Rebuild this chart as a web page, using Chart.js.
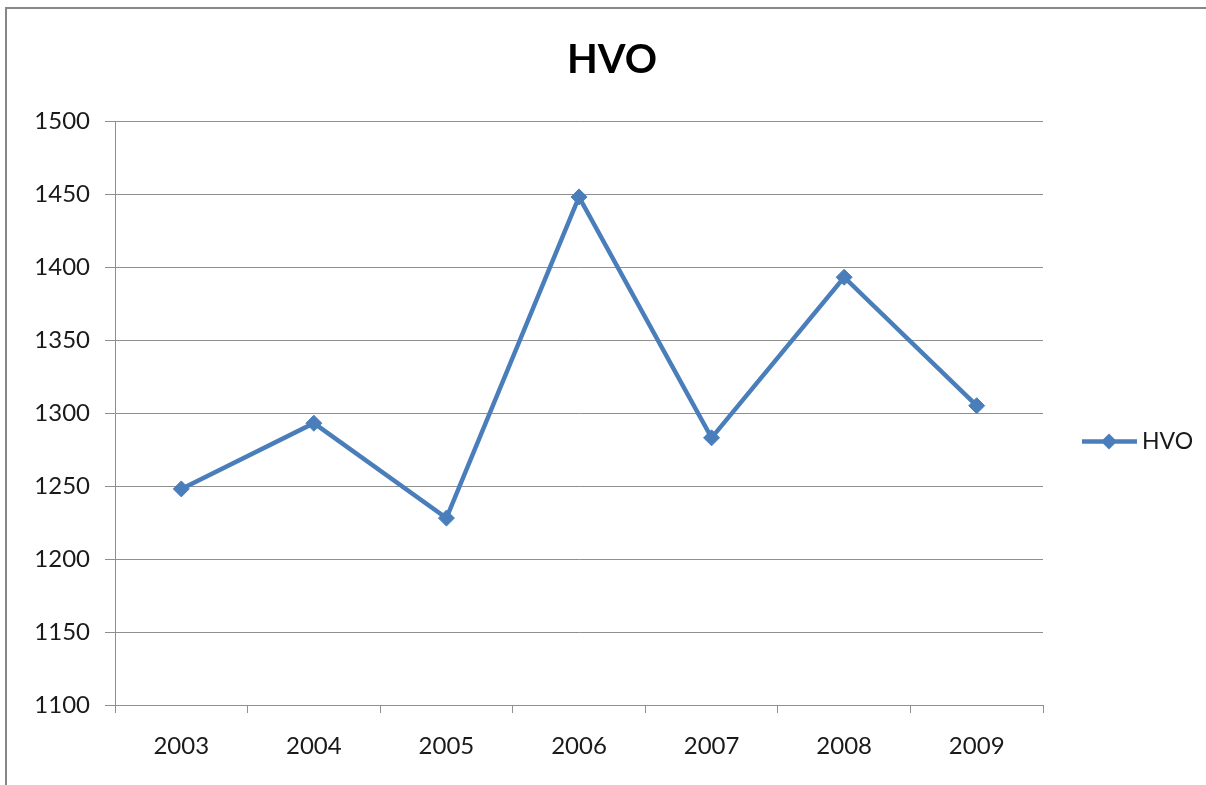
<!DOCTYPE html>
<html>
<head>
<meta charset="utf-8">
<script src="https://cdn.jsdelivr.net/npm/chart.js@4/dist/chart.umd.min.js"></script>
<style>
  html, body { margin: 0; padding: 0; width: 1206px; height: 785px; overflow: hidden; background: #fff; }
  #frame { position: absolute; left: 5px; top: 7px; width: 1300px; height: 900px;
           border-left: 2px solid #878787; border-top: 2px solid #878787; }
  #c { position: absolute; left: 7px; top: 9px; }
</style>
</head>
<body>
<div id="frame"></div>
<canvas id="c" width="1210" height="776"></canvas>
<script>
const chartTitle = 'HVO';
const seriesName = 'HVO';
const categories = ['2003', '2004', '2005', '2006', '2007', '2008', '2009'];
const hvoValues = [1248, 1293, 1228, 1448, 1283, 1393, 1305];
const yMin = 1100;
const yMax = 1500;
const yStep = 50;

const BLUE = '#4A7EBB';
const GRID = '#8f8f8f';
const FONT = 'Lato, "Open Sans", sans-serif';

const titleAndLegend = {
  id: 'titleAndLegend',
  afterDraw(chart) {
    const ctx = chart.ctx;
    const ds = chart.data.datasets[0];
    ctx.save();
    // title, centred on the full chart width
    ctx.fillStyle = '#000';
    ctx.font = 'bold 40px ' + FONT;
    ctx.textAlign = 'center';
    ctx.textBaseline = 'alphabetic';
    ctx.fillText(chartTitle, chart.width / 2, 64);
    // legend
    const cy = 432.5;
    ctx.strokeStyle = BLUE;
    ctx.lineWidth = 4.5;
    ctx.beginPath();
    ctx.moveTo(1075, cy);
    ctx.lineTo(1130, cy);
    ctx.stroke();
    ctx.fillStyle = BLUE;
    const cx = 1102, r = 8;
    ctx.beginPath();
    ctx.moveTo(cx, cy - r);
    ctx.lineTo(cx + r, cy);
    ctx.lineTo(cx, cy + r);
    ctx.lineTo(cx - r, cy);
    ctx.closePath();
    ctx.fill();
    ctx.fillStyle = '#1a1a1a';
    ctx.font = '23px ' + FONT;
    ctx.textAlign = 'left';
    ctx.textBaseline = 'middle';
    ctx.fillText(ds.label, 1135, cy);
    ctx.restore();
  }
};

new Chart(document.getElementById('c'), {
  type: 'line',
  data: {
    labels: categories,
    datasets: [{
      label: seriesName,
      data: hvoValues,
      borderColor: BLUE,
      backgroundColor: BLUE,
      borderWidth: 4.5,
      pointStyle: 'rectRot',
      pointRadius: 8,
      pointHoverRadius: 8,
      pointBorderWidth: 1,
      pointBorderColor: BLUE,
      pointBackgroundColor: BLUE,
      tension: 0,
      fill: false
    }]
  },
  options: {
    responsive: false,
    animation: false,
    devicePixelRatio: 1,
    layout: { padding: { left: 0, right: 174, top: 112, bottom: 0 } },
    plugins: {
      legend: { display: false },
      tooltip: { enabled: false },
      title: { display: false, text: chartTitle }
    },
    scales: {
      x: {
        type: 'category',
        offset: true,
        afterFit(scale) { scale.height = 80; },
        grid: {
          display: true,
          offset: true,
          drawOnChartArea: false,
          drawTicks: true,
          tickLength: 8,
          color: GRID,
          lineWidth: 1
        },
        border: { display: true, color: GRID, width: 1 },
        ticks: {
          color: '#1a1a1a',
          font: { family: FONT, size: 24 },
          padding: 19,
          maxRotation: 0
        }
      },
      y: {
        min: yMin,
        max: yMax,
        afterFit(scale) { scale.width = 108; },
        grid: {
          display: true,
          drawTicks: true,
          tickLength: 10,
          color: GRID,
          lineWidth: 1
        },
        border: { display: true, color: GRID, width: 1 },
        ticks: {
          stepSize: yStep,
          color: '#1a1a1a',
          font: { family: FONT, size: 24 },
          padding: 15,
          callback: (v) => String(v)
        }
      }
    }
  },
  plugins: [titleAndLegend]
});
</script>
</body>
</html>
